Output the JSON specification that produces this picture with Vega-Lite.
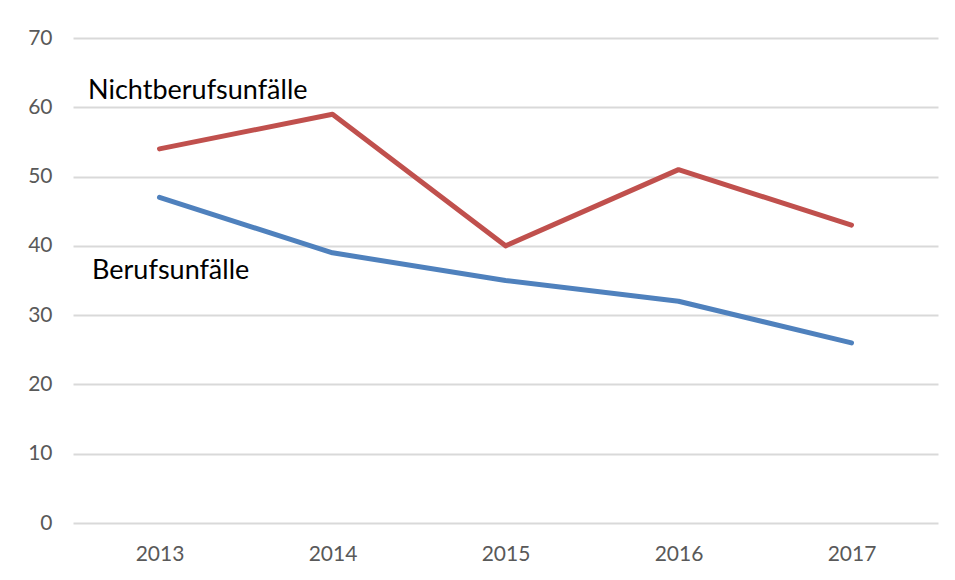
{
  "$schema": "https://vega.github.io/schema/vega-lite/v6.json",
  "width": 865,
  "height": 485,
  "autosize": {"type": "none"},
  "padding": {"left": 73, "top": 38, "right": 17, "bottom": 57},
  "background": "white",
  "config": {"view": {"stroke": null}, "font": "Lato"},
  "datasets": {
    "series": [
      {"year": 2013, "serie": "Nichtberufsunfälle", "value": 54},
      {"year": 2014, "serie": "Nichtberufsunfälle", "value": 59},
      {"year": 2015, "serie": "Nichtberufsunfälle", "value": 40},
      {"year": 2016, "serie": "Nichtberufsunfälle", "value": 51},
      {"year": 2017, "serie": "Nichtberufsunfälle", "value": 43},
      {"year": 2013, "serie": "Berufsunfälle", "value": 47},
      {"year": 2014, "serie": "Berufsunfälle", "value": 39},
      {"year": 2015, "serie": "Berufsunfälle", "value": 35},
      {"year": 2016, "serie": "Berufsunfälle", "value": 32},
      {"year": 2017, "serie": "Berufsunfälle", "value": 26}
    ],
    "labels": [
      {"year": 2012.587, "value": 61.2, "label": "Nichtberufsunfälle"},
      {"year": 2012.61, "value": 35.2, "label": "Berufsunfälle"}
    ]
  },
  "layer": [
    {
      "data": {"name": "series"},
      "mark": {"type": "line", "strokeWidth": 5, "strokeJoin": "round", "strokeCap": "round"},
      "encoding": {
        "x": {
          "field": "year", "type": "quantitative",
          "scale": {"domain": [2012.5, 2017.5], "nice": false, "zero": false},
          "axis": {
            "values": [2013, 2014, 2015, 2016, 2017], "format": "d",
            "title": null, "grid": false, "ticks": false, "domain": false,
            "labelFontSize": 21, "labelColor": "#595959", "labelPadding": 20,
            "labelFont": "Lato"
          }
        },
        "y": {
          "field": "value", "type": "quantitative",
          "scale": {"domain": [0, 70], "nice": false},
          "axis": {
            "values": [0, 10, 20, 30, 40, 50, 60, 70],
            "title": null, "grid": true, "gridColor": "#D9D9D9", "gridWidth": 2,
            "ticks": false, "domain": false,
            "labelFontSize": 21, "labelColor": "#595959", "labelPadding": 21,
            "labelFont": "Lato"
          }
        },
        "color": {
          "field": "serie", "type": "nominal",
          "scale": {"domain": ["Nichtberufsunfälle", "Berufsunfälle"], "range": ["#C0504D", "#4F81BD"]},
          "legend": null
        }
      }
    },
    {
      "data": {"name": "labels"},
      "mark": {"type": "text", "align": "left", "baseline": "alphabetic", "fontSize": 27, "font": "Lato", "color": "#000000"},
      "encoding": {
        "x": {"field": "year", "type": "quantitative"},
        "y": {"field": "value", "type": "quantitative"},
        "text": {"field": "label"}
      }
    }
  ]
}
